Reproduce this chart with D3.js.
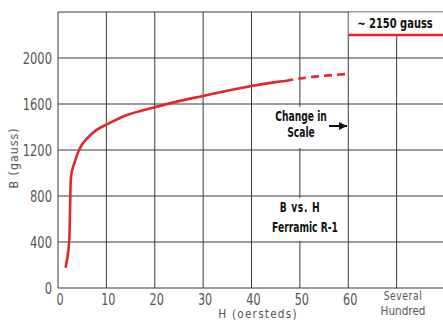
<!DOCTYPE html>
<html><head><meta charset="utf-8">
<script src="https://cdn.jsdelivr.net/npm/d3@7"></script>
<style>
html,body{margin:0;padding:0;background:#fff;}
svg{display:block;}
</style></head>
<body>
<svg id="c" width="443" height="321"></svg>
<script>
// ---- data ----
const solidH = [1.6, 2.0, 2.3, 2.45, 2.55, 2.65, 2.85, 3.2, 3.7, 4.2, 5.0, 6.2, 8.0, 10, 14, 20, 25, 30, 35, 40, 45, 47];
const solidB = [185, 280, 400, 600, 800, 940, 1010, 1065, 1125, 1185, 1250, 1310, 1375, 1420, 1500, 1572, 1625, 1670, 1715, 1756, 1790, 1800];
const dashH = [47, 50, 55, 60];
const dashB = [1800, 1822, 1845, 1862];
const satB = 2200;             // "~ 2150 gauss" level on the several-hundred scale
const xTicks = [0, 10, 20, 30, 40, 50, 60];
const xTickLabels = ["0", "10", "20", "30", "40", "50", "60"];
const gridX = [0, 10, 20, 30, 40, 50, 60, 70];
const yTicks = [0, 400, 800, 1200, 1600, 2000];
const gridY = [0, 400, 800, 1200, 1600, 2000, 2400];

const W = 443, H = 321;
const x = d3.scaleLinear().domain([0, 80]).range([58, 445]);
const y = d3.scaleLinear().domain([0, 2400]).range([288, 12]);
const svg = d3.select("#c");
const FONT = "'DejaVu Sans',sans-serif";

function txt(str, tx, ty, o) {
  o = o || {};
  return svg.append("text")
    .attr("transform", `translate(${tx},${ty}) ${o.rot ? "rotate(" + o.rot + ")" : ""} scale(${o.sx || 1},1)`)
    .attr("text-anchor", o.anchor || "middle")
    .attr("font-family", FONT)
    .attr("font-weight", o.weight || "normal")
    .attr("font-size", o.size || 14)
    .attr("letter-spacing", o.ls || 0)
    .attr("fill", o.fill || "#555")
    .text(str);
}

// grid lines
const grid = svg.append("g");
grid.selectAll("line.v").data(gridX).join("line")
  .attr("x1", d => x(d)).attr("x2", d => x(d))
  .attr("y1", y(0)).attr("y2", d => d === 70 ? y(satB) : y(2400))
  .attr("stroke", "#3a3a3a").attr("stroke-width", 1);
grid.selectAll("line.h").data(gridY).join("line")
  .attr("x1", x(0)).attr("x2", W)
  .attr("y1", d => y(d)).attr("y2", d => y(d))
  .attr("stroke", "#3a3a3a").attr("stroke-width", 1);

// white boxes behind annotations
svg.append("rect").attr("x", 256).attr("y", y(1600) + 3).attr("width", 89).attr("height", y(1200) - y(1600) - 5).attr("fill", "#fff");
svg.append("rect").attr("x", 256).attr("y", y(800) + 2).attr("width", 89).attr("height", y(400) - y(800) - 3).attr("fill", "#fff");

// saturation box
svg.append("rect").attr("x", x(60) + 0.5).attr("y", y(2400) + 0.5)
  .attr("width", W - x(60)).attr("height", y(satB) - y(2400) - 1).attr("fill", "#fff");
svg.append("line").attr("x1", x(60)).attr("x2", W).attr("y1", y(satB)).attr("y2", y(satB))
  .attr("stroke", "#e3262b").attr("stroke-width", 2.5);
txt("~ 2150 gauss", 395, 28, {size: 14, weight: "bold", sx: 0.71, fill: "#111"});

// tick labels
yTicks.forEach(d => txt(String(d), 52, y(d) + 6, {size: 16, sx: 0.72, anchor: "end"}));
xTicks.forEach((d, i) => txt(xTickLabels[i], x(d) + 2, 304.5, {size: 15, sx: 0.75}));
txt("Several", 403, 300, {size: 12.8, sx: 0.72, ls: 0.8});
txt("Hundred", 403, 315, {size: 12.8, sx: 0.82});

// axis titles
txt("H (oersteds)", 258, 318.3, {size: 11.5, sx: 0.92, ls: 1.3});
txt("B (gauss)", 18, 158, {size: 13, sx: 0.85, ls: 1.2, rot: -90});

// annotations
const A = {size: 13.5, weight: "bold", sx: 0.68, fill: "#111"};
txt("Change in", 301, 121, A);
txt("Scale", 301, 137, A);
txt("B vs. H", 300, 212, Object.assign({}, A, {ls: 1}));
txt("Ferramic R-1", 305, 232, A);
svg.append("defs").append("marker").attr("id", "ah").attr("viewBox", "0 0 10 10")
  .attr("refX", 10).attr("refY", 5).attr("markerWidth", 8).attr("markerHeight", 8)
  .attr("markerUnits", "userSpaceOnUse").attr("orient", "auto")
  .append("path").attr("d", "M0,0L10,5L0,10z").attr("fill", "#111");
svg.append("line").attr("x1", 329).attr("x2", 347).attr("y1", 126).attr("y2", 126)
  .attr("stroke", "#111").attr("stroke-width", 2).attr("marker-end", "url(#ah)");

// curves
const line = d3.line().x(d => x(d[0])).y(d => y(d[1])).curve(d3.curveCatmullRom.alpha(0.5));
svg.append("path").datum(solidH.map((h, i) => [h, solidB[i]]))
  .attr("d", line).attr("fill", "none").attr("stroke", "#e3262b").attr("stroke-width", 2.6)
  .attr("stroke-linecap", "round");
svg.append("path").datum(dashH.map((h, i) => [h, dashB[i]]))
  .attr("d", line).attr("fill", "none").attr("stroke", "#e3262b").attr("stroke-width", 2.6)
  .attr("stroke-dasharray", "8,5");
</script>
</body></html>
